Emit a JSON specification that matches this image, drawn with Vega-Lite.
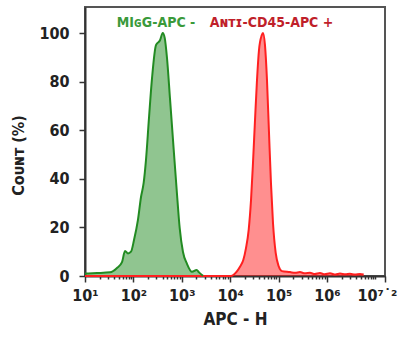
{
  "$schema": "https://vega.github.io/schema/vega-lite/v6.json",
  "width": 300,
  "height": 269,
  "autosize": {"type": "none"},
  "padding": {"left": 85, "top": 7, "right": 14, "bottom": 66},
  "background": "white",
  "config": {
    "view": {"stroke": "#555", "strokeWidth": 2},
    "axis": {
      "grid": false,
      "domainColor": "#333",
      "domainWidth": 2,
      "tickColor": "#333",
      "tickWidth": 1.5,
      "labelFont": "DejaVu Sans Condensed",
      "labelFontWeight": "bold",
      "labelFontSize": 16,
      "labelColor": "#222",
      "titleFont": "DejaVu Sans Condensed",
      "titleFontWeight": "bold",
      "titleColor": "#222"
    }
  },
  "datasets": {
    "curves": [
      {"series": "Anti-CD45", "x": 10, "y": 0},
      {"series": "Anti-CD45", "x": 10400, "y": 0},
      {"series": "Anti-CD45", "x": 13650, "y": 1.8},
      {"series": "Anti-CD45", "x": 15960, "y": 3.8},
      {"series": "Anti-CD45", "x": 18670, "y": 6.6},
      {"series": "Anti-CD45", "x": 21230, "y": 11.5},
      {"series": "Anti-CD45", "x": 24150, "y": 19},
      {"series": "Anti-CD45", "x": 26930, "y": 31},
      {"series": "Anti-CD45", "x": 29630, "y": 46.5},
      {"series": "Anti-CD45", "x": 32600, "y": 64},
      {"series": "Anti-CD45", "x": 35850, "y": 80.6},
      {"series": "Anti-CD45", "x": 39430, "y": 93},
      {"series": "Anti-CD45", "x": 44850, "y": 99},
      {"series": "Anti-CD45", "x": 47680, "y": 100},
      {"series": "Anti-CD45", "x": 52440, "y": 95},
      {"series": "Anti-CD45", "x": 57680, "y": 80.6},
      {"series": "Anti-CD45", "x": 63450, "y": 59},
      {"series": "Anti-CD45", "x": 69790, "y": 38},
      {"series": "Anti-CD45", "x": 76770, "y": 21.8},
      {"series": "Anti-CD45", "x": 87300, "y": 9.5},
      {"series": "Anti-CD45", "x": 100700, "y": 4},
      {"series": "Anti-CD45", "x": 117800, "y": 2},
      {"series": "Anti-CD45", "x": 172300, "y": 1.6},
      {"series": "Anti-CD45", "x": 220000, "y": 1.3},
      {"series": "Anti-CD45", "x": 277100, "y": 1.6},
      {"series": "Anti-CD45", "x": 350000, "y": 1.1},
      {"series": "Anti-CD45", "x": 446300, "y": 1.3},
      {"series": "Anti-CD45", "x": 560000, "y": 0.8},
      {"series": "Anti-CD45", "x": 718000, "y": 1.2},
      {"series": "Anti-CD45", "x": 900000, "y": 0.7},
      {"series": "Anti-CD45", "x": 1156000, "y": 1.1},
      {"series": "Anti-CD45", "x": 1500000, "y": 0.6},
      {"series": "Anti-CD45", "x": 1862000, "y": 1.0},
      {"series": "Anti-CD45", "x": 2400000, "y": 0.7},
      {"series": "Anti-CD45", "x": 2994000, "y": 0.9},
      {"series": "Anti-CD45", "x": 3800000, "y": 0.6},
      {"series": "Anti-CD45", "x": 4818000, "y": 0.8},
      {"series": "Anti-CD45", "x": 5745000, "y": 0.6},
      {"series": "MIgG", "x": 10, "y": 1.0},
      {"series": "MIgG", "x": 17.7, "y": 1.2},
      {"series": "MIgG", "x": 32.9, "y": 1.5},
      {"series": "MIgG", "x": 45.8, "y": 3.3},
      {"series": "MIgG", "x": 58.2, "y": 5.7},
      {"series": "MIgG", "x": 67.1, "y": 10.3},
      {"series": "MIgG", "x": 77.4, "y": 9.3},
      {"series": "MIgG", "x": 89.3, "y": 10},
      {"series": "MIgG", "x": 103, "y": 14.8},
      {"series": "MIgG", "x": 124, "y": 23},
      {"series": "MIgG", "x": 144, "y": 32.6},
      {"series": "MIgG", "x": 163, "y": 38.3},
      {"series": "MIgG", "x": 182, "y": 47.7},
      {"series": "MIgG", "x": 210, "y": 65},
      {"series": "MIgG", "x": 243, "y": 81.5},
      {"series": "MIgG", "x": 293, "y": 95},
      {"series": "MIgG", "x": 355, "y": 97},
      {"series": "MIgG", "x": 404, "y": 100},
      {"series": "MIgG", "x": 444, "y": 98},
      {"series": "MIgG", "x": 495, "y": 89.7},
      {"series": "MIgG", "x": 571, "y": 73},
      {"series": "MIgG", "x": 681, "y": 52},
      {"series": "MIgG", "x": 785, "y": 35.4},
      {"series": "MIgG", "x": 906, "y": 19.7},
      {"series": "MIgG", "x": 1059, "y": 9.9},
      {"series": "MIgG", "x": 1282, "y": 5},
      {"series": "MIgG", "x": 1626, "y": 1.7},
      {"series": "MIgG", "x": 2032, "y": 2.5},
      {"series": "MIgG", "x": 2270, "y": 1.5},
      {"series": "MIgG", "x": 2748, "y": 0.1}
    ],
    "labels": [
      {"series": "MIgG", "text": "MIɢG-APC -", "x": 293, "y": 102.5},
      {"series": "Anti-CD45", "text": "Aɴᴛɪ-CD45-APC +", "x": 71400, "y": 102.5}
    ]
  },
  "layer": [
    {
      "data": {"name": "curves"},
      "mark": {"type": "area", "fillOpacity": 0.5, "interpolate": "monotone"},
      "encoding": {
        "x": {
          "field": "x", "type": "quantitative",
          "scale": {"type": "log", "domain": [10, 15848932], "nice": false},
          "axis": {
            "title": "APC - H",
            "titleFontSize": 17,
            "titlePadding": 8,
            "values": [10,20,30,40,50,60,70,80,90,100,200,300,400,500,600,700,800,900,1000,2000,3000,4000,5000,6000,7000,8000,9000,10000,20000,30000,40000,50000,60000,70000,80000,90000,100000,200000,300000,400000,500000,600000,700000,800000,900000,1000000,2000000,3000000,4000000,5000000,6000000,7000000,8000000,9000000,10000000,15848932],
            "labelExpr": "datum.value == 10 ? '10¹' : datum.value == 100 ? '10²' : datum.value == 1000 ? '10³' : datum.value == 10000 ? '10⁴' : datum.value == 100000 ? '10⁵' : datum.value == 1000000 ? '10⁶' : datum.value == 15848932 ? '10⁷˙²' : ''",
            "labelOverlap": false,
            "labelPadding": 5,
            "labelFlush": false,
            "labelOffset": {"condition": {"test": "datum.value == 15848932", "value": -8}, "value": 0},
            "tickSize": {"condition": {"test": "datum.value == 10 || datum.value == 100 || datum.value == 1000 || datum.value == 10000 || datum.value == 100000 || datum.value == 1000000 || datum.value == 15848932", "value": 6}, "value": 3}
          }
        },
        "y": {
          "field": "y", "type": "quantitative",
          "scale": {"domain": [0, 110.7], "nice": false},
          "axis": {
            "title": "Cᴏᴜɴᴛ (%)",
            "titleFontSize": 16,
            "titlePadding": 12,
            "titleY": 148,
            "values": [0,5,10,15,20,25,30,35,40,45,50,55,60,65,70,75,80,85,90,95,100,105,110],
            "labelExpr": "datum.value % 20 == 0 ? datum.label : ''",
            "labelOverlap": false,
            "labelPadding": 10,
            "labelFlush": false,
            "tickSize": {"condition": {"test": "datum.value % 20 == 0", "value": 6}, "value": 3}
          }
        },
        "color": {
          "field": "series", "type": "nominal",
          "scale": {"domain": ["MIgG", "Anti-CD45"], "range": ["#228b22", "#ff2020"]},
          "legend": null
        }
      }
    },
    {
      "data": {"name": "curves"},
      "mark": {"type": "line", "strokeWidth": 2, "interpolate": "monotone"},
      "encoding": {
        "x": {"field": "x", "type": "quantitative"},
        "y": {"field": "y", "type": "quantitative"},
        "color": {"field": "series", "type": "nominal", "legend": null}
      }
    },
    {
      "data": {"name": "labels"},
      "mark": {"type": "text", "font": "DejaVu Sans Condensed", "fontWeight": "bold", "fontSize": 14, "baseline": "alphabetic", "align": "center"},
      "encoding": {
        "x": {"field": "x", "type": "quantitative"},
        "y": {"field": "y", "type": "quantitative"},
        "text": {"field": "text"},
        "color": {"condition": {"test": "datum.series == 'MIgG'", "value": "#3a9a3a"}, "value": "#c01f2a"}
      }
    }
  ]
}
